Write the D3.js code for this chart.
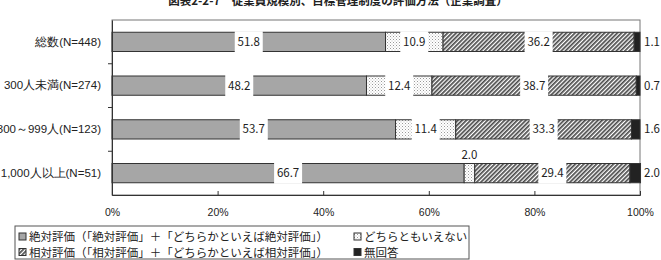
<!DOCTYPE html>
<html><head><meta charset="utf-8">
<script src="https://cdn.jsdelivr.net/npm/d3@7"></script>
<style>
body{margin:0;background:#fff;}
svg{display:block;font-family:"Noto Sans CJK JP","Noto Sans",sans-serif;}
</style></head>
<body>
<script>
const title = "図表2-2-7　従業員規模別、目標管理制度の評価方法（企業調査）";
const categories = ["総数(N=448)", "300人未満(N=274)", "300～999人(N=123)", "1,000人以上(N=51)"];
const seriesNames = ["絶対評価（「絶対評価」＋「どちらかといえば絶対評価」）", "どちらともいえない", "相対評価（「相対評価」＋「どちらかといえば相対評価」）", "無回答"];
const absoluteEval = [51.8, 48.2, 53.7, 66.7];
const neither = [10.9, 12.4, 11.4, 2.0];
const relativeEval = [36.2, 38.7, 33.3, 29.4];
const noAnswer = [1.1, 0.7, 1.6, 2.0];
const tickValues = [0, 20, 40, 60, 80, 100];

const W = 661, H = 260;
const svg = d3.select("body").append("svg").attr("width", W).attr("height", H);
const defs = svg.append("defs");

// dotted pattern
const dots = defs.append("pattern").attr("id", "dots").attr("patternUnits", "userSpaceOnUse")
  .attr("width", 3).attr("height", 3);
dots.append("rect").attr("width", 3).attr("height", 3).attr("fill", "#fff");
dots.append("rect").attr("x", 0).attr("y", 0).attr("width", 1).attr("height", 1).attr("fill", "#999");
dots.append("rect").attr("x", 1.5).attr("y", 1.5).attr("width", 1).attr("height", 1).attr("fill", "#bbb");
// hatch pattern
const hatch = defs.append("pattern").attr("id", "hatch").attr("patternUnits", "userSpaceOnUse")
  .attr("width", 3).attr("height", 3).attr("patternTransform", "rotate(45)");
hatch.append("rect").attr("width", 3).attr("height", 3).attr("fill", "#fff");
hatch.append("rect").attr("x", 0).attr("y", 0).attr("width", 1.7).attr("height", 3).attr("fill", "#4a4a4a");

const fills = ["#a6a6a6", "url(#dots)", "url(#hatch)", "#222"];
const seriesData = [absoluteEval, neither, relativeEval, noAnswer];

const pL = 112, pR = 640, pT = 20, pB = 195;
const x = d3.scaleLinear().domain([0, 100]).range([pL, pR]);
const y = d3.scaleBand().domain(categories).range([pT, pB]).paddingInner(0.56).paddingOuter(0.28);

// title
svg.append("text").attr("x", 338).attr("y", 5).attr("text-anchor", "middle")
  .attr("font-size", 11.5).attr("font-weight", "bold").attr("fill", "#222").text(title);

// plot frame
svg.append("rect").attr("x", pL).attr("y", pT).attr("width", pR - pL).attr("height", pB - pT)
  .attr("fill", "none").attr("stroke", "#777").attr("stroke-width", 1);

// bars
const rows = categories.map((c, i) => {
  let acc = 0;
  return seriesData.map((s, k) => {
    const seg = {cat: c, k, v: s[i], x0: acc, x1: acc + s[i]};
    acc += s[i];
    return seg;
  });
});
const segs = rows.flat();
svg.append("g").selectAll("rect").data(segs).join("rect")
  .attr("x", d => x(d.x0)).attr("y", d => y(d.cat))
  .attr("width", d => x(d.x1) - x(d.x0)).attr("height", y.bandwidth())
  .attr("fill", d => fills[d.k]).attr("stroke", "#333").attr("stroke-width", 1);

// axes
const yAxis = d3.axisLeft(y).tickSize(0).tickPadding(11);
const gy = svg.append("g").attr("transform", `translate(${pL},0)`).call(yAxis);
gy.select(".domain").attr("stroke", "#333");
gy.selectAll("text").attr("font-size", 11.5).attr("fill", "#222");
// category separator ticks
const seps = categories.slice(1).map(c => y(c) - y.step() * y.paddingInner() / 2);
svg.append("g").selectAll("line").data(seps).join("line")
  .attr("x1", pL - 4).attr("x2", pL).attr("y1", d => d).attr("y2", d => d)
  .attr("stroke", "#333");

const xAxis = d3.axisBottom(x).tickValues(tickValues).tickSize(-4).tickPadding(14).tickFormat(d => d + "%");
const gx = svg.append("g").attr("transform", `translate(0,${pB})`).call(xAxis);
gx.select(".domain").attr("stroke", "#333");
gx.selectAll("line").attr("stroke", "#333");
gx.selectAll("text").attr("font-size", 10.5).attr("fill", "#222");

// labels
const lab = svg.append("g").attr("font-size", 11.5).attr("fill", "#222");
segs.forEach(d => {
  const txt = d.v.toFixed(1);
  let lx, ly, anchor = "middle", box = true;
  const cy = y(d.cat) + y.bandwidth() / 2;
  if (d.v >= 3) { lx = x((d.x0 + d.x1) / 2); ly = cy; }
  else if (d.k === 3) { lx = pR + 4; ly = cy; anchor = "start"; box = false; }
  else { lx = x((d.x0 + d.x1) / 2); ly = y(d.cat) - 9; box = false; }
  if (box) {
    lab.append("rect").attr("x", lx - 14).attr("y", cy - y.bandwidth() / 2 - 1)
      .attr("width", 28).attr("height", y.bandwidth() + 2).attr("fill", "#fff");
  }
  lab.append("text").attr("x", lx).attr("y", ly).attr("dy", "0.35em").attr("text-anchor", anchor).text(txt);
});

// legend
const lg = svg.append("g");
lg.append("rect").attr("x", 15).attr("y", 226).attr("width", 454).attr("height", 33)
  .attr("fill", "#fff").attr("stroke", "#555");
const legPos = [[19, 237], [354, 237], [19, 252.5], [354, 252.5]];
const legOrder = [0, 1, 2, 3];
legOrder.forEach((k, i) => {
  const [lx, ly] = legPos[i];
  lg.append("rect").attr("x", lx).attr("y", ly - 4).attr("width", 7).attr("height", 7)
    .attr("fill", fills[k]).attr("stroke", "#333");
  lg.append("text").attr("x", lx + 10).attr("y", ly).attr("dy", "0.35em").attr("font-size", 11.5)
    .attr("fill", "#222").text(seriesNames[k]);
});
</script>
</body></html>
